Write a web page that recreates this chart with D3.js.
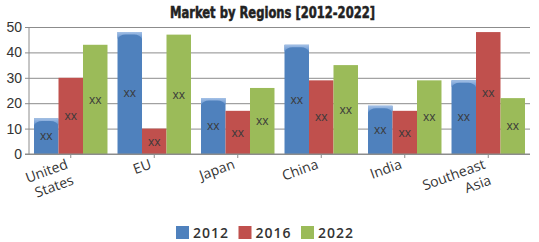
<!DOCTYPE html>
<html>
<head>
<meta charset="utf-8">
<script src="https://cdn.jsdelivr.net/npm/d3@7"></script>
<style>
  body { margin: 0; background: #fff; }
</style>
</head>
<body>
<div id="chart"></div>
<script>
// chart data
let regions = ['United States', 'EU', 'Japan', 'China', 'India', 'Southeast Asia'];
let years = ['2012', '2016', '2022'];
let values2012 = [14, 48, 22, 43, 19, 29];
let values2016 = [30, 10, 17, 29, 17, 48];
let values2022 = [43, 47, 26, 35, 29, 22];
let yTicks = [0, 10, 20, 30, 40, 50];
let barLabel = 'xx';

let colors = ['#4f81bd', '#c0504d', '#9bbb59'];
let seriesValues = [values2012, values2016, values2022];

let W = 539, H = 242;
let margin = { top: 27, left: 29, right: 9, bottom: 88 };

let svg = d3
  .select('#chart')
  .append('svg')
  .attr('width', W)
  .attr('height', H)
  .style('font-family', '"Open Sans", sans-serif');

// bevel gradient for the blue bar tops
let defs = svg.append('defs');
let grad = defs.append('linearGradient').attr('id', 'bevel').attr('x1', 0).attr('y1', 0).attr('x2', 0).attr('y2', 1);
grad.append('stop').attr('offset', '0%').attr('stop-color', '#a3c0e6');
grad.append('stop').attr('offset', '100%').attr('stop-color', '#5f8fcc');

let x = d3
  .scaleBand()
  .domain(regions)
  .range([margin.left, W - margin.right])
  .paddingInner(0.12)
  .paddingOuter(0.06);
let xSub = d3.scaleBand().domain(years).range([0, x.bandwidth()]);
let y = d3.scaleLinear().domain([0, 50]).range([H - margin.bottom, margin.top]);

// title
svg
  .append('text')
  .attr('x', 170)
  .attr('y', 18)
  .attr('textLength', 205)
  .attr('lengthAdjust', 'spacingAndGlyphs')
  .style('font-family', '"DejaVu Sans Condensed", "DejaVu Sans", sans-serif')
  .style('font-weight', 'bold')
  .style('font-size', '15px')
  .style('stroke', '#222')
  .style('stroke-width', '0.5px')
  .attr('fill', '#222')
  .text('Market by Regions [2012-2022]');

// gridlines + y axis
let yAxis = svg
  .append('g')
  .attr('transform', 'translate(' + margin.left + ',0)')
  .call(
    d3.axisLeft(y)
      .tickValues(yTicks)
      .tickSize(-(W - margin.left - margin.right))
      .tickPadding(8)
  );
yAxis.select('.domain').remove();
yAxis.selectAll('.tick line').attr('stroke', '#8c8c8c').attr('x1', -4);
yAxis.selectAll('.tick text').attr('fill', '#333').style('font-size', '14px').attr('x', -7);

svg
  .append('line')
  .attr('x1', margin.left)
  .attr('x2', margin.left)
  .attr('y1', y(50))
  .attr('y2', y(0))
  .attr('stroke', '#8c8c8c');

// bars
let groups = svg
  .selectAll('.region')
  .data(regions)
  .enter()
  .append('g')
  .attr('class', 'region')
  .attr('transform', function (d) {
    return 'translate(' + x(d) + ',0)';
  });

years.forEach(function (yr, i) {
  let bars = groups.append('g');
  bars
    .append('rect')
    .attr('x', xSub(yr))
    .attr('y', function (d, j) {
      return y(seriesValues[i][j]);
    })
    .attr('width', xSub.bandwidth())
    .attr('height', function (d, j) {
      return y(0) - y(seriesValues[i][j]);
    })
    .attr('fill', colors[i]);

  if (i === 0) {
    // rounded highlight cap on blue bars
    bars
      .append('path')
      .attr('d', function (d, j) {
        let x0 = xSub(yr), w = xSub.bandwidth(), t = y(seriesValues[i][j]);
        return 'M' + x0 + ',' + t + 'H' + (x0 + w) + 'V' + (t + 7) +
          'Q' + (x0 + w - 2) + ',' + (t + 2.5) + ' ' + (x0 + w - 8) + ',' + (t + 2.5) +
          'H' + (x0 + 8) + 'Q' + (x0 + 2) + ',' + (t + 2.5) + ' ' + x0 + ',' + (t + 7) + 'Z';
      })
      .attr('fill', 'url(#bevel)');
  }

  bars
    .append('text')
    .attr('x', xSub(yr) + xSub.bandwidth() / 2)
    .attr('y', function (d, j) {
      return (y(seriesValues[i][j]) + y(0)) / 2;
    })
    .attr('dy', '0.35em')
    .attr('text-anchor', 'middle')
    .attr('fill', '#3a3a3a')
    .style('font-size', '12px')
    .text(barLabel);
});

// x axis
let xAxis = svg
  .append('g')
  .attr('transform', 'translate(0,' + y(0) + ')')
  .call(d3.axisBottom(x).tickSize(4).tickFormat(''));
xAxis.select('.domain').attr('stroke', '#8c8c8c').attr('d', 'M' + (margin.left - 4) + ',0H' + (W - margin.right));
xAxis.selectAll('.tick line').attr('stroke', '#8c8c8c');

let xLabels = svg
  .selectAll('.xlabel')
  .data(regions)
  .enter()
  .append('text')
  .attr('class', 'xlabel')
  .attr('text-anchor', 'end')
  .attr('fill', '#333')
  .style('font-size', '14px')
  .attr('transform', function (d) {
    return 'translate(' + (x(d) + x.bandwidth() / 2 - 2) + ',' + (y(0) + 14) + ') rotate(-20)';
  });
xLabels.each(function (d) {
  let words = d.split(' ');
  let t = d3.select(this);
  words.forEach(function (w, k) {
    t.append('tspan').attr('x', 0).attr('dy', k === 0 ? 0 : 17).text(w);
  });
});

// legend
let legend = svg
  .selectAll('.legend')
  .data(years)
  .enter()
  .append('g')
  .attr('class', 'legend')
  .attr('transform', function (d, i) {
    return 'translate(' + (176 + i * 62.5) + ',226)';
  });
legend
  .append('rect')
  .attr('width', 13)
  .attr('height', 13)
  .attr('fill', function (d, i) {
    return colors[i];
  });
legend
  .append('text')
  .attr('x', 17)
  .attr('y', 12)
  .attr('fill', '#333')
  .style('font-size', '14px')
  .style('font-weight', '600')
  .style('letter-spacing', '1px')
  .text(function (d) {
    return d;
  });
</script>
</body>
</html>
